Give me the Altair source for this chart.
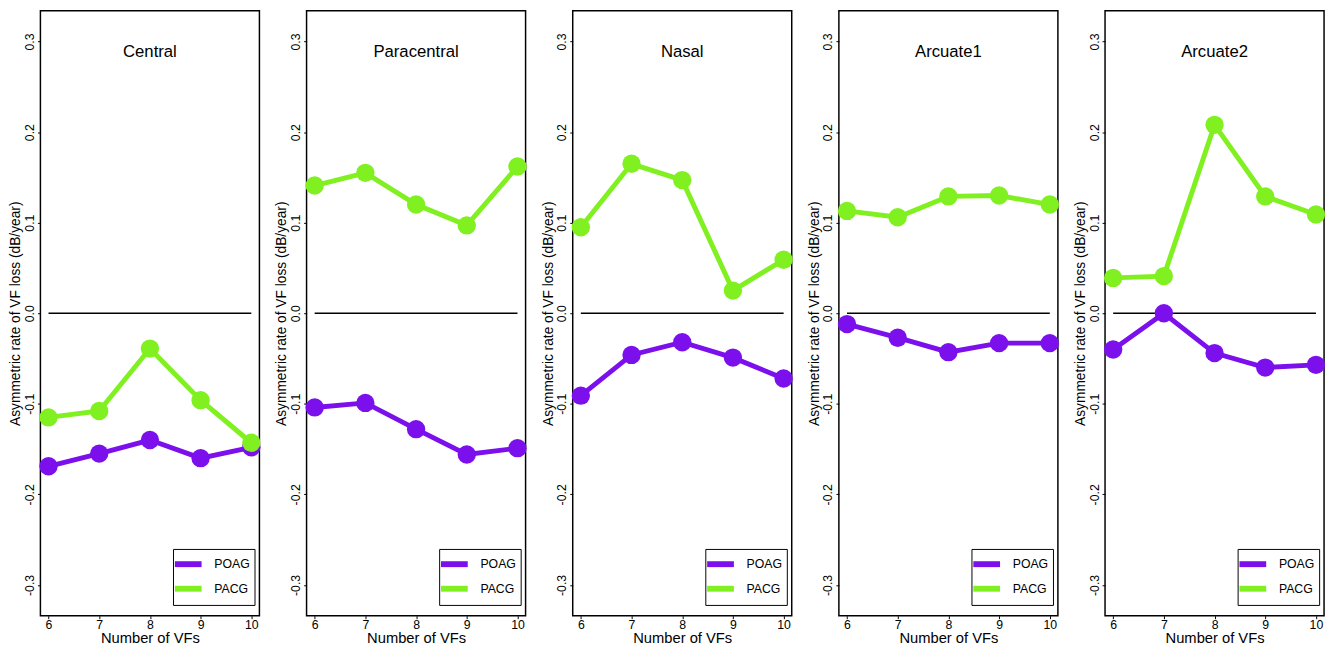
import altair as alt
import pandas as pd

regions = ["Central", "Paracentral", "Nasal", "Arcuate1", "Arcuate2"]
n_vfs = [6, 7, 8, 9, 10]
groups = ["POAG", "PACG"]
group_colors = ["#7B10EC", "#80F020"]

poag_central = [-0.169, -0.155, -0.140, -0.160, -0.148]
pacg_central = [-0.115, -0.108, -0.039, -0.096, -0.143]
poag_paracentral = [-0.104, -0.099, -0.128, -0.156, -0.149]
pacg_paracentral = [0.141, 0.155, 0.120, 0.097, 0.162]
poag_nasal = [-0.091, -0.046, -0.032, -0.049, -0.072]
pacg_nasal = [0.095, 0.165, 0.147, 0.025, 0.059]
poag_arcuate1 = [-0.012, -0.027, -0.043, -0.033, -0.033]
pacg_arcuate1 = [0.113, 0.106, 0.129, 0.130, 0.120]
poag_arcuate2 = [-0.040, 0.000, -0.044, -0.060, -0.057]
pacg_arcuate2 = [0.039, 0.041, 0.208, 0.129, 0.109]

series = {
    "Central": (poag_central, pacg_central),
    "Paracentral": (poag_paracentral, pacg_paracentral),
    "Nasal": (poag_nasal, pacg_nasal),
    "Arcuate1": (poag_arcuate1, pacg_arcuate1),
    "Arcuate2": (poag_arcuate2, pacg_arcuate2),
}

y_ticks = [-0.3, -0.2, -0.1, 0.0, 0.1, 0.2, 0.3]

W = 223
H = 616
FONT = "Liberation Sans"

xscale = alt.Scale(domain=[5.84, 10.16], nice=False, zero=False)
yscale = alt.Scale(domain=[-0.334, 0.334], nice=False, zero=False)
cscale = alt.Scale(domain=groups, range=group_colors)


def panel(name):
    poag, pacg = series[name]
    rows = []
    for g, vals in zip(groups, (poag, pacg)):
        for n, v in zip(n_vfs, vals):
            rows.append({"n": n, "rate": v, "group": g})
    df = pd.DataFrame(rows)

    xenc = alt.X("n:Q", scale=xscale,
                 axis=alt.Axis(values=n_vfs, title="Number of VFs", format="d"))
    yenc = alt.Y("rate:Q", scale=yscale,
                 axis=alt.Axis(values=y_ticks,
                               labelExpr="replace(format(datum.value, '.1f'), '\u2212', '-')",
                               title="Asymmetric rate of VF loss (dB/year)"))

    zero = alt.Chart(pd.DataFrame({"x": [n_vfs[0]], "x2": [n_vfs[-1]], "y": [0.0]})).mark_rule(
        color="black", strokeWidth=1.5
    ).encode(x=alt.X("x:Q", scale=xscale), x2="x2:Q", y=alt.Y("y:Q", scale=yscale))

    lines = alt.Chart(df).mark_line(strokeWidth=5).encode(
        x=xenc, y=yenc,
        color=alt.Color("group:N", scale=cscale,
                        legend=alt.Legend(title=None, orient="none", legendX=W - 88, legendY=H - 68,
                                          symbolType="M-1.6,0L1.6,0")),
        detail="group:N",
    )
    pts = alt.Chart(df).mark_circle(size=350, opacity=1).encode(
        x=xenc, y=yenc,
        color=alt.Color("group:N", scale=cscale, legend=None),
    )
    label = alt.Chart(pd.DataFrame({"t": [name]})).mark_text(
        fontSize=17, font=FONT, color="black"
    ).encode(text="t:N", x=alt.value(W / 2), y=alt.value(42))

    return alt.layer(zero, lines, pts, label).properties(width=W, height=H)


chart = alt.hconcat(*[panel(r) for r in regions], spacing=12).resolve_scale(
    color="independent"
).resolve_legend(color="independent").properties(
    padding={"left": 0, "top": -4, "right": 0, "bottom": -8}
).configure_view(
    stroke="black", strokeWidth=1.5
).configure_axis(
    domain=False, grid=False, tickColor="black", tickSize=3, labelColor="black",
    titleColor="black", labelFont=FONT, titleFont=FONT, labelFontSize=12.5,
    titleFontSize=14, titleFontWeight="normal", minExtent=0
).configure_axisY(
    labelAngle=270, labelAlign="center", labelBaseline="bottom", labelPadding=1, titlePadding=1
).configure_axisX(
    labelPadding=0, titlePadding=0, titleFontSize=15
).configure_legend(
    strokeColor="black", fillColor="white", padding=4, labelFont=FONT, labelFontSize=12.5,
    symbolStrokeWidth=6, symbolSize=289, rowPadding=0, labelColor="black", labelOffset=15
)

chart.save("out.html", embed_options={"renderer": "svg", "actions": False})
